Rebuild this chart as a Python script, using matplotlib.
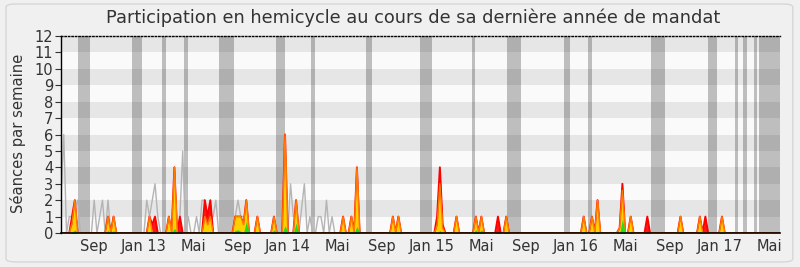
import numpy as np
import matplotlib
matplotlib.use("Agg")
import matplotlib.pyplot as plt
from matplotlib.patches import FancyBboxPatch

# ---- data: one value per week, weeks counted from the start of the period ----
n_weeks = 261

# tick labels (month starts) and the week they fall on
tick_weeks = [12, 30, 48, 64, 82, 100, 116, 134, 152, 168, 186, 204, 220, 238, 256]
tick_labels = ["Sep", "Jan 13", "Mai", "Sep", "Jan 14", "Mai", "Sep", "Jan 15",
               "Mai", "Sep", "Jan 16", "Mai", "Sep", "Jan 17", "Mai"]

# parliamentary breaks (start week, end week)
vacances = [(6.1, 10.5), (25.7, 29.3), (36.5, 38.0), (44.5, 45.9), (57.1, 62.6),
            (77.7, 81.0), (90.4, 91.8), (110.3, 112.5), (129.8, 134.2),
            (148.6, 149.7), (161.3, 166.3), (181.9, 184.0), (190.6, 192.0),
            (213.3, 218.4), (234.0, 237.2), (243.7, 244.8), (246.6, 248.1),
            (250.6, 251.7), (252.5, 260.0)]

# weekly presence
presence_weeks = [4, 5, 17, 19, 32, 33, 34, 39, 41, 43, 52, 53, 54, 63, 64, 65, 66, 67,
                  71, 77, 81, 85, 102, 105, 107, 120, 122, 136, 137, 138, 143, 150, 152,
                  158, 161, 189, 192, 194, 202, 203, 206, 212, 224, 231, 233, 239]
presence_vals = [1, 2, 1, 1, 1, 0.5, 1, 1, 4, 1, 2, 1, 2, 1, 1, 1, 0.5, 2,
                 1, 1, 6, 2, 1, 1, 4, 1, 1, 1, 4, 0.5, 1, 1, 1,
                 1, 1, 1, 1, 2, 0.3, 3, 1, 1, 1, 1, 1, 1]

# weekly participation
particip_weeks = [4, 5, 17, 19, 32, 39, 41, 52, 53, 54, 63, 64, 65, 66, 67, 71, 77, 81,
                  85, 102, 105, 107, 120, 122, 136, 137, 138, 143, 150, 152, 161, 189,
                  192, 194, 202, 203, 206, 224, 231, 239]
particip_vals = [0.6, 2, 1, 1, 1, 1, 4, 1, 0.5, 1, 1, 1, 1, 0.5, 2, 1, 1, 6,
                 2, 1, 1, 4, 1, 1, 0.5, 3, 0.3, 1, 1, 1, 1, 1,
                 1, 2, 0.3, 2.6, 1, 1, 1, 1]

# weekly interventions
interv_weeks = [4, 5, 17, 19, 32, 39, 41, 52, 54, 63, 64, 65, 67, 71, 77, 81, 85, 102,
                105, 107, 120, 122, 137, 143, 150, 152, 161, 189, 192, 194, 203, 206,
                224, 231, 239]
interv_vals = [0.05, 0.2, 0.15, 0.15, 0.1, 0.1, 0.3, 0.1, 0.1, 0.15, 0.2, 0.1, 0.7, 0.1,
               0.2, 0.45, 0.6, 0.1, 0.1, 0.4, 0.1, 0.1, 0.15, 0.05, 0.2, 0.2, 0.1,
               0.1, 0.1, 0.1, 0.85, 0.1, 0.1, 0.1, 0.1]

# weekly median of all members
median_weeks = [0, 1, 3, 4, 5, 6, 12, 14, 15, 17, 31, 32, 33, 34, 35, 43, 44, 46, 49,
                51, 52, 53, 54, 55, 56, 63, 64, 65, 66, 67, 83, 84, 85, 87, 88, 90, 93,
                94, 96, 98]
median_vals = [2, 6, 1, 1, 1.5, 2, 2, 1, 2, 2, 2, 1, 2, 3, 1, 1, 5, 1, 1,
               2, 2, 1, 1, 1, 2, 1, 2, 1, 1, 1, 3, 1, 1, 1.5, 3, 1, 1,
               1, 2, 1]


def weekly(ws, vs):
    s = np.zeros(n_weeks)
    s[np.array(ws)] = vs
    return s


weeks = np.arange(n_weeks)
presence = weekly(presence_weeks, presence_vals)
particip = weekly(particip_weeks, particip_vals)
interv = weekly(interv_weeks, interv_vals)
median = weekly(median_weeks, median_vals)

# ---- figure ----
bg = "#f0f0f0"
fig = plt.figure(figsize=(8.0, 2.67), dpi=100, facecolor=bg)
frame = FancyBboxPatch((0.0075, 0.019), 0.9835, 0.966,
                       boxstyle="round,pad=0,rounding_size=0.012",
                       transform=fig.transFigure, fc="none", ec="#d6d6d6", lw=1.0)
fig.patches.append(frame)

ax = fig.add_axes([0.07625, 0.1273, 0.8988, 0.7379])
ax.set_facecolor("#fafafa")
ax.set_xlim(0, n_weeks - 1)
ax.set_ylim(0, 12)

# horizontal stripes
for y in range(1, 12, 2):
    ax.axhspan(y, y + 1, color="#e6e6e6", lw=0, zorder=0)

# breaks
for a, b in vacances:
    ax.axvspan(a, b, color="black", alpha=0.24, lw=0, zorder=0.5)

# median line
ax.plot(weeks, median, color="#b4b4b4", lw=1.0, zorder=1)

# presence / participation / interventions
ax.fill_between(weeks, presence, color="#ff1a1a", lw=0, zorder=2)
ax.plot(weeks, presence, color="#ff0000", lw=1.4, zorder=2)
ax.fill_between(weeks, particip, color="#ffd000", lw=0, zorder=3)
ax.plot(weeks, particip, color="#ff7a00", lw=1.0, zorder=3)
ax.fill_between(weeks, interv, color="#1ee01e", lw=0, zorder=4)

# axes styling
ax.spines["right"].set_visible(False)
ax.spines["top"].set_linestyle((0, (1, 1.5)))
ax.spines["top"].set_linewidth(1.0)
ax.spines["left"].set_linewidth(1.0)
ax.spines["bottom"].set_linewidth(1.2)
for s in ax.spines.values():
    s.set_zorder(5)

ax.set_yticks(range(0, 13))
ax.set_yticklabels([str(i) for i in range(0, 13)])
ax.set_xticks(tick_weeks)
ax.set_xticklabels(tick_labels)
ax.tick_params(axis="y", length=4, width=0.8, pad=1.5, labelsize=10.5,
               labelcolor="#333333", color="#333333")
ax.tick_params(axis="x", length=0, pad=4.5, labelsize=10.5, labelcolor="#333333")

fig.text(0.516, 0.932, "Participation en hemicycle au cours de sa dernière année de mandat",
         ha="center", va="center", fontsize=12.8, color="#333333")
fig.text(0.022, 0.5, "Séances par semaine", rotation=90, ha="center", va="center",
         fontsize=10.6, color="#333333")

fig.savefig("out.png", dpi=100, facecolor=bg)
